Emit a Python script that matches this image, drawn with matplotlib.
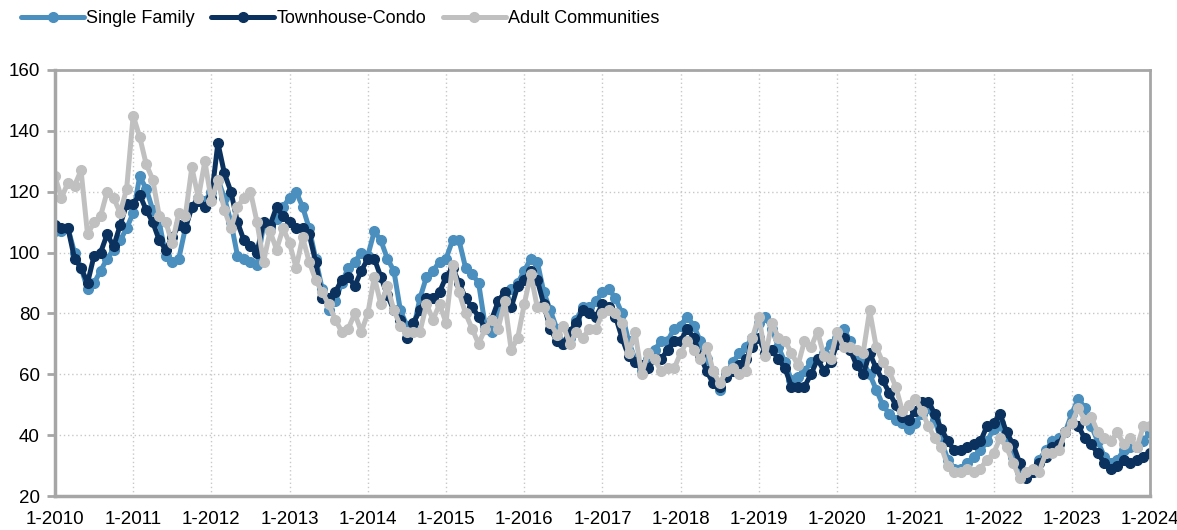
import numpy as np
import pandas as pd
import matplotlib
matplotlib.use("Agg")
import matplotlib.pyplot as plt

# monthly index values, Jan 2010 .. Jan 2024
single_family = [
    107, 107, 108, 100, 95, 88, 90, 94, 98, 101, 104, 108,
    113, 125, 121, 114, 110, 99, 97, 98, 108, 115, 118, 117,
    120, 124, 118, 110, 99, 98, 97, 96, 109, 108, 111, 115,
    118, 120, 115, 108, 98, 88, 81, 84, 90, 95, 97, 100,
    99, 107, 104, 98, 94, 81, 76, 75, 85, 92, 94, 97,
    98, 104, 104, 95, 93, 90, 76, 74, 80, 85, 88, 90,
    94, 98, 97, 87, 81, 75, 70, 72, 78, 82, 82, 84,
    87, 88, 85, 80, 71, 65, 61, 65, 68, 71, 71, 75,
    76, 79, 76, 71, 65, 61, 55, 60, 64, 67, 69, 72,
    77, 79, 75, 69, 64, 58, 59, 61, 64, 65, 67, 70,
    72, 75, 71, 66, 64, 60, 55, 50, 47, 45, 44, 42,
    44, 47, 49, 45, 38, 32, 29, 29, 31, 33, 35, 38,
    42, 44, 38, 33, 28, 27, 28, 32, 35, 38, 39, 41,
    47, 52, 49, 43, 38, 33, 31, 32, 35, 36, 36, 38,
    41,
]
townhouse_condo = [
    109, 108, 108, 98, 95, 90, 99, 100, 106, 102, 109, 116,
    116, 119, 114, 110, 104, 101, 105, 109, 108, 115, 117, 115,
    118, 136, 126, 120, 110, 104, 102, 100, 110, 109, 115, 112,
    110, 108, 108, 106, 97, 85, 85, 87, 91, 92, 89, 94,
    98, 98, 92, 86, 81, 78, 72, 77, 81, 85, 85, 87,
    92, 95, 90, 85, 82, 79, 75, 78, 84, 87, 82, 89,
    91, 94, 91, 83, 75, 71, 70, 74, 77, 81, 80, 79,
    83, 82, 79, 72, 66, 64, 63, 62, 65, 65, 68, 71,
    71, 75, 72, 66, 61, 57, 56, 59, 61, 63, 65, 69,
    72, 67, 68, 65, 62, 56, 56, 56, 60, 65, 61, 64,
    70, 72, 68, 63, 60, 67, 62, 58, 54, 50, 46, 45,
    48, 51, 51, 47, 42, 38, 35, 35, 36, 37, 38, 43,
    44, 47, 41, 37, 31, 26, 28, 31, 33, 36, 37, 41,
    44, 43, 39, 37, 34, 31, 29, 30, 32, 31, 32, 33,
    34,
]
adult_communities = [
    125, 118, 123, 122, 127, 106, 110, 112, 120, 118, 113, 121,
    145, 138, 129, 124, 112, 110, 103, 113, 112, 128, 118, 130,
    117, 124, 114, 108, 115, 118, 120, 110, 97, 107, 101, 108,
    103, 95, 105, 97, 91, 87, 83, 78, 74, 75, 80, 74,
    80, 92, 83, 89, 81, 76, 74, 74, 74, 83, 78, 83,
    77, 96, 87, 80, 75, 70, 75, 78, 75, 84, 68, 72,
    83, 93, 82, 82, 77, 73, 76, 70, 74, 72, 75, 75,
    80, 81, 80, 77, 67, 74, 60, 67, 65, 61, 62, 62,
    67, 71, 68, 65, 69, 61, 57, 61, 62, 60, 61, 72,
    79, 66, 77, 72, 71, 67, 63, 71, 69, 74, 66, 65,
    74, 69, 69, 68, 67, 81, 69, 64, 61, 56, 48, 50,
    52, 48, 43, 39, 36, 30, 28, 28, 29, 28, 29, 32,
    34, 39, 36, 31, 26, 28, 29, 28, 34, 34, 35, 41,
    44, 49, 45, 46, 41, 39, 38, 41, 37, 39, 36, 43,
    43,
]
years = list(range(2010, 2025))
tick_labels = [f"1-{y}" for y in years]

months = pd.date_range("2010-01-01", "2024-01-01", freq="MS")
df = pd.DataFrame({
    "Single Family": single_family,
    "Townhouse-Condo": townhouse_condo,
    "Adult Communities": adult_communities,
}, index=months)
colors = {"Single Family": "#4A8FBE", "Townhouse-Condo": "#0B325E", "Adult Communities": "#C0C0C0"}

plt.rcParams["font.family"] = ["Liberation Sans", "DejaVu Sans"]
fig = plt.figure(figsize=(11.77, 5.30), dpi=100)
ax = fig.add_axes([0.0467, 0.064, 0.9303, 0.804])

x = np.arange(len(df))
for name in df.columns:
    ax.plot(x, df[name].values, color=colors[name], lw=3.6, marker="o", ms=7,
            solid_capstyle="round", solid_joinstyle="round", label=name)

ax.set_xlim(0, len(df) - 1)
ax.set_ylim(20, 160)
ax.set_yticks(range(20, 161, 20))
ax.set_xticks(np.arange(0, len(df), 12))
ax.set_xticklabels(tick_labels)
ax.grid(True, color="#C8C8C8", ls=(0, (1, 2)), lw=1.0)
for side in ["left", "bottom", "right", "top"]:
    ax.spines[side].set_color("#A6A6A6")
    ax.spines[side].set_linewidth(2.0)
ax.spines["left"].set_linewidth(2.5)
ax.spines["bottom"].set_linewidth(2.5)
ax.tick_params(axis="y", colors="#A6A6A6", width=2, length=6, labelcolor="black", labelsize=13.5, pad=5)
ax.tick_params(axis="x", length=0, labelcolor="black", labelsize=13.5, pad=11)

fig.legend(loc="upper left", bbox_to_anchor=(0.004, 1.012), ncol=3, frameon=False,
           fontsize=13, handlelength=3.5, handletextpad=0.12, columnspacing=0.9)

fig.savefig("out.png", dpi=100)
